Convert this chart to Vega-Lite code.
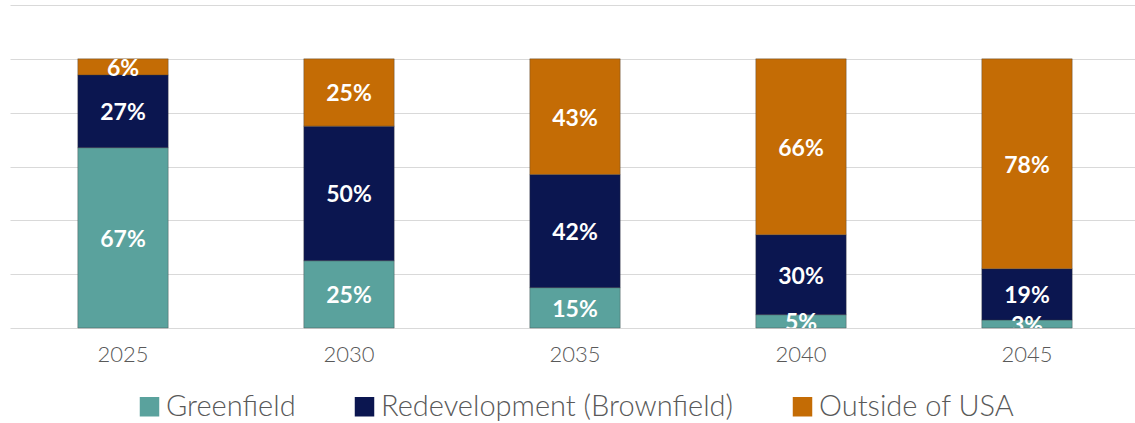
{
  "$schema": "https://vega.github.io/schema/vega-lite/v6.json",
  "autosize": {"type": "none"},
  "padding": {"left": 10, "top": 5, "right": 0, "bottom": 95},
  "width": 1130,
  "height": 323,
  "background": "white",
  "config": {"view": {"stroke": null}, "font": "Lato"},
  "data": {
    "values": [
      {"year": "2025", "series": "Greenfield", "idx": 1, "value": 0.67},
      {"year": "2025", "series": "Redevelopment (Brownfield)", "idx": 2, "value": 0.27},
      {"year": "2025", "series": "Outside of USA", "idx": 3, "value": 0.06},
      {"year": "2030", "series": "Greenfield", "idx": 1, "value": 0.25},
      {"year": "2030", "series": "Redevelopment (Brownfield)", "idx": 2, "value": 0.50},
      {"year": "2030", "series": "Outside of USA", "idx": 3, "value": 0.25},
      {"year": "2035", "series": "Greenfield", "idx": 1, "value": 0.15},
      {"year": "2035", "series": "Redevelopment (Brownfield)", "idx": 2, "value": 0.42},
      {"year": "2035", "series": "Outside of USA", "idx": 3, "value": 0.43},
      {"year": "2040", "series": "Greenfield", "idx": 1, "value": 0.05},
      {"year": "2040", "series": "Redevelopment (Brownfield)", "idx": 2, "value": 0.30},
      {"year": "2040", "series": "Outside of USA", "idx": 3, "value": 0.66},
      {"year": "2045", "series": "Greenfield", "idx": 1, "value": 0.03},
      {"year": "2045", "series": "Redevelopment (Brownfield)", "idx": 2, "value": 0.19},
      {"year": "2045", "series": "Outside of USA", "idx": 3, "value": 0.78}
    ]
  },
  "transform": [
    {"stack": "value", "groupby": ["year"], "sort": [{"field": "idx", "order": "ascending"}], "offset": "normalize", "as": ["v0", "v1"]},
    {"calculate": "(datum.v0 + datum.v1) / 2", "as": "mid"}
  ],
  "encoding": {
    "x": {
      "field": "year", "type": "nominal", "title": null,
      "scale": {"paddingInner": 0.6, "paddingOuter": 0.3},
      "axis": {"domain": false, "ticks": false, "labelAngle": 0, "labelFontSize": 22, "labelColor": "#595959", "labelPadding": 16, "labelFont": "Lato", "labelFontWeight": 300}
    }
  },
  "layer": [
    {
      "mark": {"type": "bar", "stroke": "#3a3a3a", "strokeWidth": 0.6, "strokeOpacity": 0.6},
      "encoding": {
        "y": {
          "field": "v0", "type": "quantitative", "title": null,
          "scale": {"domain": [0, 1.2], "nice": false, "zero": true},
          "axis": {"values": [0, 0.2, 0.4, 0.6, 0.8, 1.0, 1.2], "labels": false, "ticks": false, "domain": false, "grid": true, "gridColor": "#d9d9d9", "gridWidth": 1}
        },
        "y2": {"field": "v1"},
        "color": {
          "field": "series", "type": "nominal", "title": null,
          "scale": {"domain": ["Greenfield", "Redevelopment (Brownfield)", "Outside of USA"], "range": ["#5aa29d", "#0b1650", "#c46c05"]},
          "legend": {
            "orient": "none", "legendX": 125, "legendY": 387, "direction": "horizontal",
            "symbolType": "square", "symbolSize": 380, "symbolStrokeWidth": 0,
            "labelFontSize": 29, "labelColor": "#595959", "labelFont": "Lato", "labelFontWeight": 300,
            "columnPadding": 54, "symbolOffset": 0, "labelOffset": 2, "labelLimit": 500
          }
        }
      }
    },
    {
      "mark": {"type": "text", "color": "white", "fontWeight": "bold", "fontSize": 23, "font": "Lato", "baseline": "middle", "align": "center", "clip": true, "dy": 2},
      "encoding": {
        "y": {"field": "mid", "type": "quantitative"},
        "text": {"field": "value", "type": "quantitative", "format": ".0%"}
      }
    }
  ]
}
